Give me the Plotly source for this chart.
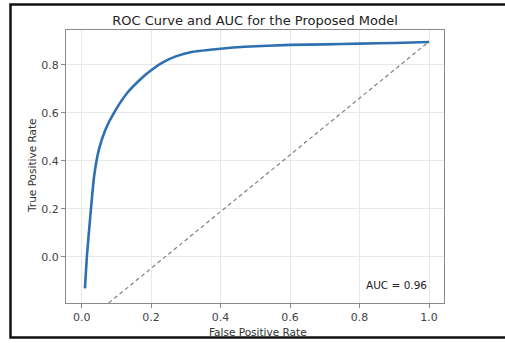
import plotly.graph_objects as go

# ROC curve values
fpr = [0.0095, 0.015, 0.025, 0.036, 0.05, 0.069, 0.093, 0.131, 0.178, 0.2, 0.235,
       0.273, 0.32, 0.4, 0.47, 0.6, 0.7, 0.8, 0.9, 1.0]
tpr = [-0.132, 0.0, 0.17, 0.337, 0.449, 0.532, 0.60, 0.683, 0.752, 0.778, 0.812,
       0.837, 0.855, 0.868, 0.876, 0.884, 0.886, 0.889, 0.892, 0.896]

# reference (chance) line endpoints
ref_x = [0.0, 1.0]
ref_y = [-0.285, 0.898]

x_ticks = [0.0, 0.2, 0.4, 0.6, 0.8, 1.0]
y_ticks = [0.0, 0.2, 0.4, 0.6, 0.8]

title_text = "ROC Curve and AUC for the Proposed Model"
x_title = "False Positive Rate"
y_title = "True Positive Rate"
auc_text = "AUC = 0.96"

FONT = "DejaVu Sans"
W, H = 505, 343
L, R, T, B = 66, 61, 30, 40
PW, PH = W - L - R, H - T - B


def px_x(x):
    return (x - L) / PW


def px_y(y):
    return (H - B - y) / PH


fig = go.Figure()
fig.add_trace(go.Scatter(x=ref_x, y=ref_y, mode="lines",
                         line=dict(color="#808080", width=1.2, dash="4px,3px"),
                         showlegend=False, hoverinfo="skip"))
fig.add_trace(go.Scatter(x=fpr, y=tpr, mode="lines",
                         line=dict(color="#2f70b0", width=2.6, shape="spline", smoothing=0.5),
                         showlegend=False))

axis_common = dict(showline=True, linecolor="#8a8a8a", linewidth=1, mirror=True,
                   showgrid=True, gridcolor="#e8e8e8", gridwidth=1, zeroline=False,
                   ticks="outside", ticklen=4, tickcolor="#8a8a8a", tickwidth=1,
                   tickfont=dict(family=FONT, size=11, color="#444444"),
                   tickformat=".1f", automargin=False)

fig.update_xaxes(range=[-0.045, 1.043], tickvals=x_ticks, **axis_common)
fig.update_yaxes(range=[-0.193, 0.946], tickvals=y_ticks, **axis_common)

fig.add_annotation(text=x_title, xref="paper", yref="paper",
                   x=px_x(258), y=px_y(332), xanchor="center", yanchor="middle",
                   showarrow=False, font=dict(family=FONT, size=10.5, color="#333333"))
fig.add_annotation(text=y_title, xref="paper", yref="paper", textangle=-90,
                   x=px_x(32), y=px_y(166), xanchor="center", yanchor="middle",
                   showarrow=False, font=dict(family=FONT, size=10.5, color="#333333"))
fig.add_annotation(text=auc_text, xref="paper", yref="paper",
                   x=px_x(429), y=px_y(285), xanchor="right", yanchor="middle",
                   showarrow=False, font=dict(family=FONT, size=10.5, color="#222222"))

# outer black frame of the picture (right edge lies outside the picture)
fig.add_shape(type="rect", xref="paper", yref="paper",
              x0=px_x(10.5), x1=px_x(530), y0=px_y(337.5), y1=px_y(4.5),
              line=dict(color="#111111", width=2.5), layer="above")

fig.update_layout(
    width=W, height=H,
    margin=dict(l=L, r=R, t=T, b=B),
    paper_bgcolor="white", plot_bgcolor="white",
    title=dict(text=title_text, x=0.5, xref="paper", xanchor="center",
               y=1 - 20.5 / H, yanchor="middle",
               font=dict(family=FONT, size=13, color="#222222")),
    font=dict(family=FONT),
)

fig.write_html("out.html", config={"displayModeBar": False},
               post_script="document.body.style.margin='0';")
